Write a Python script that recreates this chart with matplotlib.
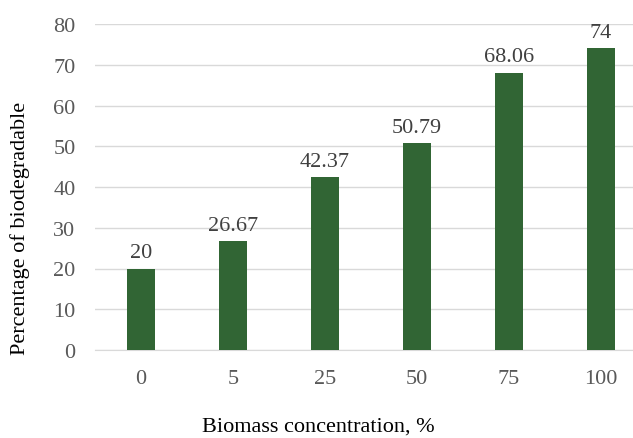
import matplotlib
matplotlib.use("Agg")
import matplotlib.pyplot as plt

categories = ["0", "5", "25", "50", "75", "100"]
values = [20, 26.67, 42.37, 50.79, 68.06, 74]
value_labels = ["20", "26.67", "42.37", "50.79", "68.06", "74"]
y_ticks = [0, 10, 20, 30, 40, 50, 60, 70, 80]

plt.rcParams["font.family"] = ["Liberation Serif", "DejaVu Serif"]

fig = plt.figure(figsize=(6.33, 4.39), dpi=100)
ax = fig.add_axes([95 / 633, 88 / 439, 552 / 633, 326 / 439])

x = list(range(len(categories)))
bars = ax.bar(x, values, width=0.315, color="#316534", zorder=3)

for bar, lab in zip(bars, value_labels):
    ax.annotate(lab, (bar.get_x() + bar.get_width() / 2, bar.get_height()),
                xytext=(0, 4.5), textcoords="offset points",
                ha="center", va="bottom", fontsize=16, color="#404040")

ax.set_xlim(-0.5, len(categories) - 0.5)
ax.set_ylim(0, 80)
ax.set_yticks(y_ticks)
ax.set_xticks(x)
ax.set_xticklabels(categories)
ax.tick_params(axis="both", length=0, labelsize=16, labelcolor="#595959")
ax.tick_params(axis="x", pad=14)
ax.tick_params(axis="y", pad=14)

ax.grid(axis="y", color="#d9d9d9", linewidth=1, zorder=0)
for side in ["top", "right", "left"]:
    ax.spines[side].set_visible(False)
ax.spines["bottom"].set_color("#d9d9d9")

fig.text(20 / 633, 211 / 439, "Percentage of biodegradable", rotation=90,
         ha="center", va="center", fontsize=16, color="#000000")
fig.text(318 / 633, 2 / 439, "Biomass concentration, %",
         ha="center", va="bottom", fontsize=16, color="#000000")

plt.savefig("out.png", dpi=100)
plt.close()
